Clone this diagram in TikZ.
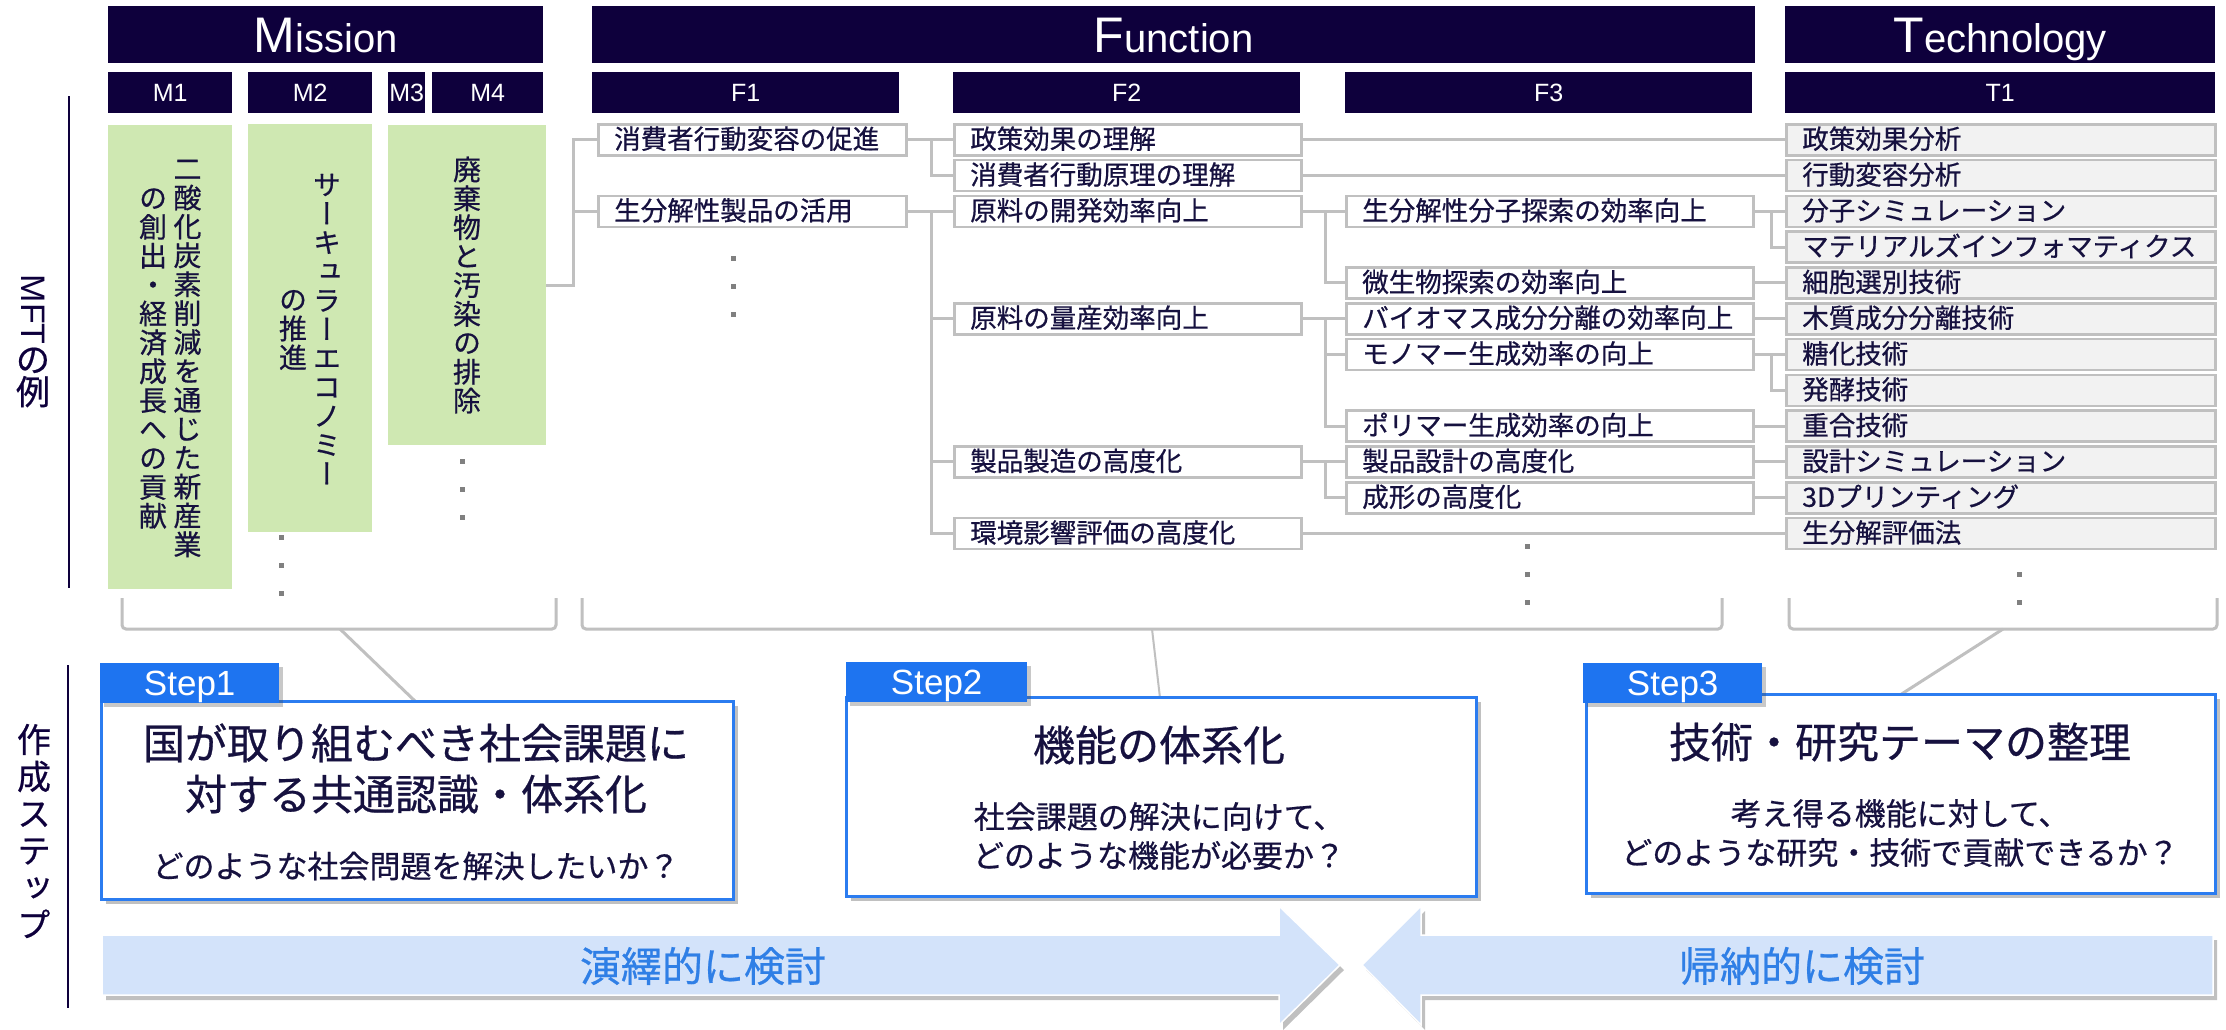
\documentclass[tikz,border=0pt]{standalone}
\usepackage{fontspec}
\setmainfont{Noto Sans CJK JP}[FakeBold=0.6]
\newfontfamily\jpv{Noto Sans CJK JP}[RawFeature=+vert,FakeBold=0.6]
\newfontfamily\arialf{Liberation Sans}
\usetikzlibrary{shadows}
\definecolor{navy}{HTML}{0E003C}
\definecolor{txt}{HTML}{16113F}
\definecolor{lgreen}{HTML}{CFE8B2}
\definecolor{cgray}{HTML}{C0C0C0}
\definecolor{tfill}{HTML}{F2F2F2}
\definecolor{dotc}{HTML}{808080}
\definecolor{sblue}{HTML}{1E74F0}
\definecolor{sborder}{HTML}{2B7CF0}
\definecolor{afill}{HTML}{D3E3FA}
\definecolor{atext}{HTML}{2F7FE6}
\newlength\tatepitch
\setlength\tatepitch{28.9pt}
\makeatletter
\newcommand\tate[1]{\vbox{\baselineskip=\tatepitch\lineskiplimit=-100pt\lineskip=0pt\tate@#1\@nil}}
\def\tate@#1{\ifx\@nil#1\else\hbox to 1em{\hss#1\hss}\expandafter\tate@\fi}
\makeatother
\begin{document}
\begin{tikzpicture}[x=1pt,y=-1pt,
  hdr/.style={fill=navy,text=white,anchor=north west,inner sep=0pt,font=\arialf},
  bighdr/.style={hdr,minimum height=57,text height=36,text depth=0pt},
  subhdr/.style={hdr,minimum height=41,text height=18,text depth=0pt,font=\arialf\fontsize{25}{25}\selectfont},
  gbox/.style={fill=lgreen,anchor=north west,inner sep=0pt},
  vtext/.style={text=txt,inner sep=0pt,font=\jpv\fontsize{28}{29}\selectfont},
  tbox/.style={draw=cgray,line width=2.5pt,fill=white,anchor=north west,minimum height=31,inner xsep=16pt,inner ysep=0pt,align=left,text=txt,font=\fontsize{26.5}{28}\selectfont,text height=22pt,text depth=4pt},
  f1box/.style={tbox,text width=276pt},
  f2box/.style={tbox,text width=315pt},
  f3box/.style={tbox,text width=375pt},
  t1box/.style={tbox,text width=397pt,fill=tfill},
  conn/.style={draw=cgray,line width=3pt},
  brk/.style={draw=cgray,line width=3pt,rounded corners=4pt},
  sbox/.style={draw=sborder,line width=2.5pt,fill=white,anchor=north west,inner sep=0pt,
    drop shadow={shadow xshift=5pt,shadow yshift=-5pt,opacity=0.35,fill=black!70}},
  stab/.style={fill=sblue,text=white,anchor=north west,inner sep=0pt,minimum height=40,
    font=\arialf\fontsize{35}{35}\selectfont,text height=25pt,text depth=0pt,
    drop shadow={shadow xshift=4pt,shadow yshift=-4pt,opacity=0.3,fill=black!70}},
  stitle/.style={text=txt,align=center,inner sep=0pt,font=\fontsize{42}{51}\selectfont},
  ssub/.style={text=txt,align=center,inner sep=0pt,font=\fontsize{31}{39}\selectfont},
  arr/.style={fill=afill,draw=white,line width=1.5pt,
    drop shadow={shadow xshift=4pt,shadow yshift=-5pt,opacity=0.35,fill=black!70}},
  atxt/.style={text=atext,inner sep=0pt,font=\fontsize{41}{41}\selectfont},
  sidelbl/.style={text=navy,inner sep=0pt}]
\useasboundingbox (0,0) rectangle (2226,1029);
\fill[white] (0,0) rectangle (2226,1029);

% ---------- headers ----------
\node[bighdr,minimum width=435] (mish) at (108,6) {\fontsize{50}{50}\selectfont M\fontsize{40}{40}\selectfont ission};
\node[bighdr,minimum width=1163] (funh) at (592,6) {\fontsize{50}{50}\selectfont F\fontsize{40}{40}\selectfont unction};
\node[bighdr,minimum width=430] (tech) at (1785,6) {\fontsize{50}{50}\selectfont T\fontsize{40}{40}\selectfont echnology};
\node[subhdr,minimum width=124] (hm1) at (108,72) {M1};
\node[subhdr,minimum width=124] (hm2) at (248,72) {M2};
\node[subhdr,minimum width=37] (hm3) at (388,72) {M3};
\node[subhdr,minimum width=111] (hm4) at (432,72) {M4};
\node[subhdr,minimum width=307] (hf1) at (592,72) {F1};
\node[subhdr,minimum width=347] (hf2) at (953,72) {F2};
\node[subhdr,minimum width=407] (hf3) at (1345,72) {F3};
\node[subhdr,minimum width=430] (ht1) at (1785,72) {T1};

% ---------- side labels ----------
\draw[navy,line width=2pt] (69,96) coordinate (mftl1) -- (69,588) coordinate (mftl2);
\draw[navy,line width=2pt] (68,665) coordinate (stl1) -- (68,1008) coordinate (stl2);
\node[sidelbl,font=\fontsize{34}{34}\selectfont] (mftlbl) at (33,341)
  {\vbox{\baselineskip=0pt\lineskiplimit=0pt\lineskip=3pt
   \hbox to 34pt{\hss\rotatebox[origin=c]{-90}{\arialf MFT}\hss}
   \hbox to 34pt{\hss の\hss}
   \hbox to 34pt{\hss 例\hss}}};
\node[sidelbl,font=\jpv\fontsize{34}{36}\selectfont] (sakusei) at (34,831)
  {\setlength\tatepitch{37pt}\tate{作成ステップ}};

% ---------- mission boxes ----------
\node[gbox,minimum width=124,minimum height=464] (m1) at (108,125) {};
\node[gbox,minimum width=124,minimum height=408] (m2) at (248,124) {};
\node[gbox,minimum width=158,minimum height=320] (m34) at (388,125) {};
\node[vtext] (m1r) at (187.5,358.5) {\tate{二酸化炭素削減を通じた新産業}};
\node[vtext] (m1l) at (153,358.5) {\tate{の創出・経済成長への貢献}};
\node[vtext] (m2r) at (327,329) {\tate{サーキュラーエコノミー}};
\node[vtext] (m2l) at (293,330) {\tate{の推進}};
\node[vtext] (m34t) at (467,285) {\tate{廃棄物と汚染の排除}};

% ---------- ellipsis dots ----------
\foreach \xx/\ya in {733/258, 281/537, 462/461, 1527/546, 2019/546}
  \foreach \dy in {0,28,56}
    \fill[dotc] (\xx-2.5,\ya+\dy-2.5) rectangle ++(5,5);

% ---------- tree boxes ----------
\node[f1box] (f1a) at (597,123) {消費者行動変容の促進};
\node[f1box] (f1b) at (597,194.6) {生分解性製品の活用};

\node[f2box] (f2a) at (953,123) {政策効果の理解};
\node[f2box] (f2b) at (953,158.8) {消費者行動原理の理解};
\node[f2box] (f2c) at (953,194.6) {原料の開発効率向上};
\node[f2box] (f2d) at (953,302) {原料の量産効率向上};
\node[f2box] (f2e) at (953,445.2) {製品製造の高度化};
\node[f2box] (f2f) at (953,516.8) {環境影響評価の高度化};

\node[f3box] (f3a) at (1345,194.6) {生分解性分子探索の効率向上};
\node[f3box] (f3b) at (1345,266.2) {微生物探索の効率向上};
\node[f3box] (f3c) at (1345,302) {バイオマス成分分離の効率向上};
\node[f3box] (f3d) at (1345,337.8) {モノマー生成効率の向上};
\node[f3box] (f3e) at (1345,409.4) {ポリマー生成効率の向上};
\node[f3box] (f3f) at (1345,445.2) {製品設計の高度化};
\node[f3box] (f3g) at (1345,481) {成形の高度化};

\node[t1box] (t1a) at (1785,123) {政策効果分析};
\node[t1box] (t1b) at (1785,158.8) {行動変容分析};
\node[t1box] (t1c) at (1785,194.6) {分子シミュレーション};
\node[t1box] (t1d) at (1785,230.4) {マテリアルズインフォマティクス};
\node[t1box] (t1e) at (1785,266.2) {細胞選別技術};
\node[t1box] (t1f) at (1785,302) {木質成分分離技術};
\node[t1box] (t1g) at (1785,337.8) {糖化技術};
\node[t1box] (t1h) at (1785,373.6) {発酵技術};
\node[t1box] (t1i) at (1785,409.4) {重合技術};
\node[t1box] (t1j) at (1785,445.2) {設計シミュレーション};
\node[t1box] (t1k) at (1785,481) {3Dプリンティング};
\node[t1box] (t1l) at (1785,516.8) {生分解評価法};

% ---------- connectors ----------
\foreach \c in {f1a,f1b} \draw[conn] (m34.east) -- ++(27,0) |- (\c.west);
\foreach \c in {f2a,f2b} \draw[conn] (f1a.east) -- ++(24,0) |- (\c.west);
\foreach \c in {f2c,f2d,f2e,f2f} \draw[conn] (f1b.east) -- ++(24,0) |- (\c.west);
\draw[conn] (f2a.east) -- (t1a.west);
\draw[conn] (f2b.east) -- (t1b.west);
\draw[conn] (f2f.east) -- (t1l.west);
\foreach \c in {f3a,f3b} \draw[conn] (f2c.east) -- ++(23,0) |- (\c.west);
\foreach \c in {f3c,f3d,f3e} \draw[conn] (f2d.east) -- ++(23,0) |- (\c.west);
\foreach \c in {f3f,f3g} \draw[conn] (f2e.east) -- ++(23,0) |- (\c.west);
\foreach \c in {t1c,t1d} \draw[conn] (f3a.east) -- ++(17,0) |- (\c.west);
\draw[conn] (f3b.east) -- (t1e.west);
\draw[conn] (f3c.east) -- (t1f.west);
\foreach \c in {t1g,t1h} \draw[conn] (f3d.east) -- ++(17,0) |- (\c.west);
\draw[conn] (f3e.east) -- (t1i.west);
\draw[conn] (f3f.east) -- (t1j.west);
\draw[conn] (f3g.east) -- (t1k.west);

% ---------- brackets ----------
\draw[brk] (122,598) -- (122,629) -- (556,629) -- (556,598);
\draw[brk] (582,598) -- (582,629) -- (1722,629) -- (1722,598);
\draw[brk] (1789,598) -- (1789,629) -- (2217,629) -- (2217,598);
\coordinate (mbk) at (340,629);
\coordinate (fbk) at (1152,629);
\coordinate (tbk) at (2003,629);
\coordinate (s1in) at (416,702);
\coordinate (s2in) at (1160,698);
\coordinate (s3in) at (1900,695);
\draw[conn] (mbk) -- (s1in);
\draw[conn,line width=2pt] (fbk) -- (s2in);
\draw[conn] (tbk) -- (s3in);

% ---------- step boxes ----------
\node[sbox,minimum width=632,minimum height=198] (s1) at (100,700) {};
\node[sbox,minimum width=630,minimum height=199] (s2) at (845,696) {};
\node[sbox,minimum width=629,minimum height=199] (s3) at (1585,693) {};
\node[stab,minimum width=179] (s1tab) at (100,663) {Step1};
\node[stab,minimum width=181] (s2tab) at (846,662) {Step2};
\node[stab,minimum width=179] (s3tab) at (1583,663) {Step3};

\node[stitle] (s1t) at (416,768.5) {国が取り組むべき社会課題に\\対する共通認識・体系化};
\node[ssub] (s1s) at (416,866) {どのような社会問題を解決したいか？};
\node[stitle] (s2t) at (1159,745) {機能の体系化};
\node[ssub] (s2s) at (1159,836) {社会課題の解決に向けて、\\どのような機能が必要か？};
\node[stitle] (s3t) at (1900,742) {技術・研究テーマの整理};
\node[ssub] (s3s) at (1900,833) {考え得る機能に対して、\\どのような研究・技術で貢献できるか？};

% ---------- bottom arrows ----------
\draw[arr] (102,935) -- (1279,935) -- (1279,906) -- (1340,965) -- (1279,1025) -- (1279,995) -- (102,995) -- cycle;
\draw[arr] (1362,965) -- (1421,906) -- (1421,935) -- (2213,935) -- (2213,995) -- (1421,995) -- (1421,1025) -- cycle;
\node[atxt] (ded) at (703,966) {演繹的に検討};
\node[atxt] (ind) at (1802,966) {帰納的に検討};
\end{tikzpicture}
\end{document}
